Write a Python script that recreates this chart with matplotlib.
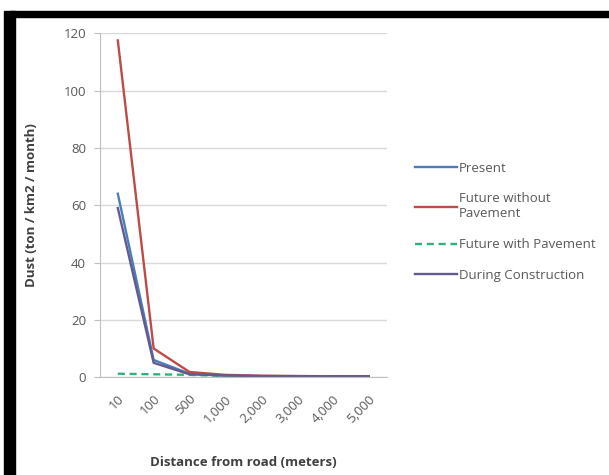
import matplotlib.pyplot as plt
from matplotlib.patches import Rectangle

distances = ["10", "100", "500", "1,000", "2,000", "3,000", "4,000", "5,000"]
present = [64, 6, 1.2, 0.5, 0.3, 0.2, 0.2, 0.2]
future_no_pave = [117.5, 10, 1.8, 0.8, 0.5, 0.4, 0.3, 0.3]
future_pave = [1.2, 1.0, 0.8, 0.4, 0.2, 0.1, 0.1, 0.1]
construction = [59, 5, 1.0, 0.6, 0.4, 0.3, 0.3, 0.3]

plt.rcParams["font.family"] = ["Open Sans", "DejaVu Sans"]

fig = plt.figure(figsize=(6.09, 4.75), dpi=100)
ax = fig.add_axes([0.164, 0.206, 0.471, 0.724])

x = range(len(distances))
ax.plot(x, present, color="#4A7EBB", lw=1.7, label="Present")
ax.plot(x, future_no_pave, color="#BE4B48", lw=1.7, label="Future without\nPavement")
ax.plot(x, future_pave, color="#2DB37A", lw=1.7, ls=(0, (3, 2)), label="Future with Pavement")
ax.plot(x, construction, color="#655A8C", lw=1.7, label="During Construction")

ax.set_xlim(-0.5, len(distances) - 0.5)
ax.set_ylim(0, 120)
ax.set_yticks(range(0, 121, 20))
ax.set_xticks(list(x))
ax.set_xticklabels(distances, rotation=45, ha="right", rotation_mode="anchor")
ax.tick_params(axis="y", labelsize=9.5, length=4, width=0.8, color="#BFBFBF", pad=6)
ax.tick_params(axis="x", labelsize=9.5, length=0, pad=11)
for lbl in ax.get_xticklabels() + ax.get_yticklabels():
    lbl.set_color("#595959")
ax.grid(axis="y", color="#D9D9D9", lw=1)
ax.set_axisbelow(True)
for side in ["top", "right"]:
    ax.spines[side].set_visible(False)
ax.spines["left"].set_color("#BFBFBF")
ax.spines["bottom"].set_color("#BFBFBF")

ax.set_ylabel("Dust (ton / km2 / month)", fontsize=9.5, fontweight="bold", color="#404040", labelpad=18)
ax.set_xlabel("Distance from road (meters)", fontsize=9.5, fontweight="bold", color="#404040", labelpad=22)

leg = fig.legend(loc="upper left", bbox_to_anchor=(0.662, 0.685), frameon=False,
                 fontsize=9.5, handlelength=3.2, handletextpad=0.15, labelspacing=1.35)
for t in leg.get_texts():
    t.set_color("#595959")
    t.set_linespacing(1.2)

# black frame along top and left edges
fig.patches.append(Rectangle((0.016, 0.964), 0.984, 0.013, transform=fig.transFigure,
                             color="black", zorder=10))
fig.patches.append(Rectangle((0.006, 0.0), 0.019, 0.977, transform=fig.transFigure,
                             color="black", zorder=10))

fig.savefig("out.png", dpi=100)
